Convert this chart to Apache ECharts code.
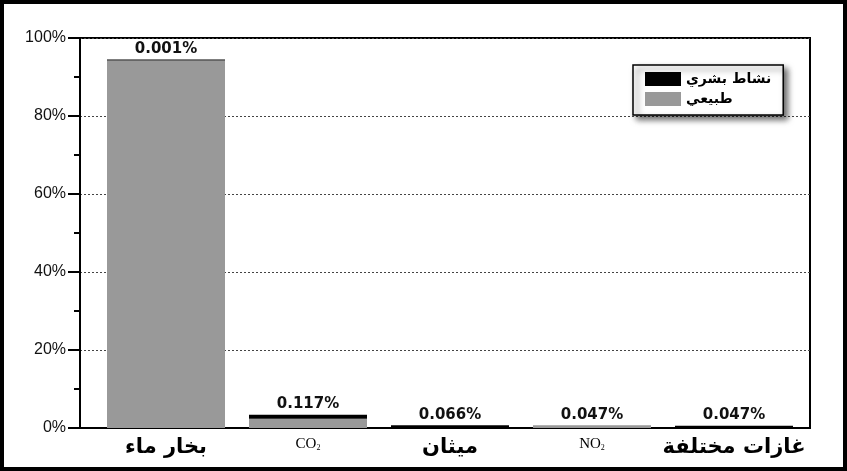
<!DOCTYPE html>
<html><head><meta charset="utf-8">
<script src="https://cdn.jsdelivr.net/npm/echarts@6/dist/echarts.min.js"></script>
<style>
html,body{margin:0;padding:0;background:#fff;}
#frame{width:847px;height:471px;box-sizing:border-box;border:4px solid #000;position:relative;overflow:hidden;}
#chart{position:absolute;left:-4px;top:-4px;width:847px;height:471px;}
</style></head>
<body><div id="frame"><div id="chart"></div></div>
<script>
var categories = ['بخار ماء', 'CO{sub|2}', 'ميثان', 'NO{sub|2}', 'غازات مختلفة'];
var naturalValues = [94.2, 2.4, 0, 0.7, 0];
var humanValues = [0.3, 1.0, 0.7, 0, 0.6];
var barLabels = ['0.001%', '0.117%', '0.066%', '0.047%', '0.047%'];
var yTicks = [0, 20, 40, 60, 80, 100];
var seriesNames = ['نشاط بشري', 'طبيعي'];

var chart = echarts.init(document.getElementById('chart'));
chart.setOption({
  animation: false,
  legend: {
    data: seriesNames,
    icon: 'rect',
    orient: 'vertical', left: 633, top: 65,
    itemWidth: 36, itemHeight: 14, itemGap: 6,
    padding: [7, 12, 9, 12],
    backgroundColor: '#fff', borderColor: '#000', borderWidth: 1.5,
    shadowBlur: 6, shadowOffsetX: 4, shadowOffsetY: 4, shadowColor: 'rgba(0,0,0,0.6)',
    textStyle: { fontFamily: 'DejaVu Sans', fontWeight: 'bold', fontSize: 14, color: '#000' },
    itemStyle: { borderWidth: 0 }
  },
  grid: [
    { left: 80, right: 37, top: 38, bottom: 43, show: true, borderColor: '#000', borderWidth: 2, backgroundColor: 'transparent' },
    { left: 95, right: 42, top: 38, bottom: 43 }
  ],
  xAxis: [
    { type: 'category', gridIndex: 0, data: categories, axisLine: { show: true, lineStyle: { color: '#000', width: 2 } }, axisTick: { show: false }, axisLabel: { show: false } },
    { type: 'category', gridIndex: 1, data: categories,
      axisLine: { show: false }, axisTick: { show: false },
      axisLabel: { interval: 0, margin: 9, color: '#000', fontFamily: 'DejaVu Sans', fontWeight: 'bold', fontSize: 21,
        formatter: function (v) { return v.indexOf('{sub|') >= 0 ? '{chem|' + v.replace('{sub|2}', '') + '}{sub|2}' : v; },
        rich: {
          chem: { fontFamily: 'Liberation Serif', fontWeight: 'normal', fontSize: 15, color: '#000', verticalAlign: 'bottom' },
          sub: { fontFamily: 'Liberation Serif', fontWeight: 'normal', fontSize: 8, color: '#000', verticalAlign: 'bottom', padding: [6, 0, 0, 0] }
        } } }
  ],
  yAxis: [
    { type: 'value', gridIndex: 0, min: 0, max: 100, interval: 20,
      axisLine: { show: true, lineStyle: { color: '#000', width: 2 } },
      axisTick: { show: true, length: 12, lineStyle: { color: '#000', width: 2 } },
      minorTick: { show: true, splitNumber: 2, length: 6, lineStyle: { color: '#000', width: 2 } },
      axisLabel: { margin: 14, color: '#111', fontFamily: 'Liberation Sans', fontSize: 16,
        formatter: function (v) { return yTicks.indexOf(v) >= 0 ? v + '%' : ''; } },
      splitLine: { show: true, lineStyle: { type: [2, 2], color: '#444', width: 1 } } },
    { type: 'value', gridIndex: 1, min: 0, max: 100, show: false }
  ],
  series: [
    { name: seriesNames[1], type: 'bar', xAxisIndex: 1, yAxisIndex: 1, stack: 'g', data: naturalValues,
      barWidth: 118, itemStyle: { color: '#999999' } },
    { name: seriesNames[0], type: 'bar', xAxisIndex: 1, yAxisIndex: 1, stack: 'g', data: humanValues,
      barWidth: 118, itemStyle: { color: '#000000' },
      label: { show: true, position: 'top', distance: 3, color: '#111', fontFamily: 'DejaVu Sans', fontWeight: 'bold', fontSize: 15,
        formatter: function (p) { return barLabels[p.dataIndex]; } } }
  ]
});
</script></body></html>
